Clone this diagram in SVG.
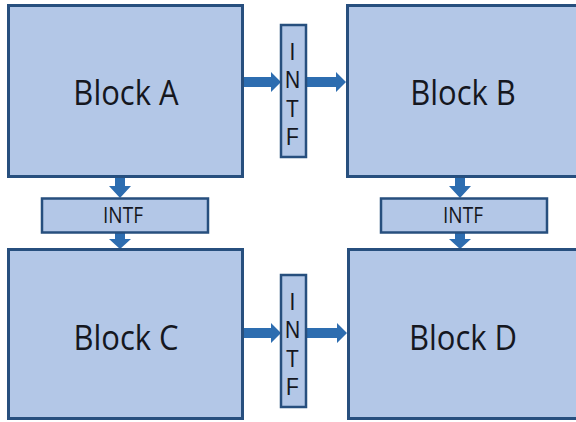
<svg xmlns="http://www.w3.org/2000/svg" width="576" height="422" viewBox="0 0 576 422">
<style>
.blk{fill:#b3c7e7;stroke:#274f7e;stroke-width:3}
.intf{fill:#b3c7e7;stroke:#274f7e;stroke-width:2.5}
.arr{fill:#2d6db0}
.big{font-family:"Open Sans","Liberation Sans",sans-serif;font-size:31px;fill:#15171f;text-anchor:middle}
.mid{font-family:"Open Sans","Liberation Sans",sans-serif;font-size:19px;fill:#15171f;text-anchor:middle}
.vl{font-family:"Liberation Sans",Arial,sans-serif;font-size:21px;fill:#15171f;text-anchor:middle}
</style>
<rect width="576" height="422" fill="#ffffff"/>
<g id="connectors">
<polygon class="arr" points="244,77 271,77 271,72 281,82 271,92 271,87 244,87"/>
<polygon class="arr" points="307,77 336,77 336,72 346,82 336,92 336,87 307,87"/>
<polygon class="arr" points="244,328 271,328 271,323 281,333 271,343 271,338 244,338"/>
<polygon class="arr" points="307,328 337,328 337,323 347,333 337,343 337,338 307,338"/>
<polygon class="arr" points="115,178 125,178 125,186 131,186 120,198 109,186 115,186"/>
<polygon class="arr" points="115,233 125,233 125,239 131,239 120,249 109,239 115,239"/>
<polygon class="arr" points="455,178 465,178 465,186 471,186 460,198 449,186 455,186"/>
<polygon class="arr" points="455,233 465,233 465,239 471,239 460,249 449,239 455,239"/>
</g>
<g id="blockA">
<rect class="blk" x="8.5" y="5.5" width="234" height="171"/>
<text class="big" transform="translate(126,105) scale(1,1.1)">Block A</text>
</g>
<g id="blockB">
<rect class="blk" x="347.5" y="5.5" width="240" height="171"/>
<text class="big" transform="translate(463,105) scale(1,1.1)">Block B</text>
</g>
<g id="blockC">
<rect class="blk" x="8.5" y="249.5" width="234" height="169"/>
<text class="big" transform="translate(126,350) scale(1,1.1)">Block C</text>
</g>
<g id="blockD">
<rect class="blk" x="348.5" y="249.5" width="240" height="169"/>
<text class="big" transform="translate(463,350) scale(1,1.1)">Block D</text>
</g>
<g id="intfAB">
<rect class="intf" x="281" y="25" width="25" height="132"/>
<text class="vl" transform="translate(292.5,60) scale(1,1.13)"><tspan x="0" y="0">I</tspan><tspan x="0" dy="25.2">N</tspan><tspan x="0" dy="25.2">T</tspan><tspan x="0" dy="25.2">F</tspan></text>
</g>
<g id="intfCD">
<rect class="intf" x="281" y="275" width="25" height="132"/>
<text class="vl" transform="translate(292.5,310) scale(1,1.13)"><tspan x="0" y="0">I</tspan><tspan x="0" dy="25.2">N</tspan><tspan x="0" dy="25.2">T</tspan><tspan x="0" dy="25.2">F</tspan></text>
</g>
<g id="intfAC">
<rect class="intf" x="42" y="198.5" width="166" height="34"/>
<text class="mid" transform="translate(123,223) scale(1,1.1)">INTF</text>
</g>
<g id="intfBD">
<rect class="intf" x="381" y="198.5" width="166" height="34"/>
<text class="mid" transform="translate(463,223) scale(1,1.1)">INTF</text>
</g>
</svg>
